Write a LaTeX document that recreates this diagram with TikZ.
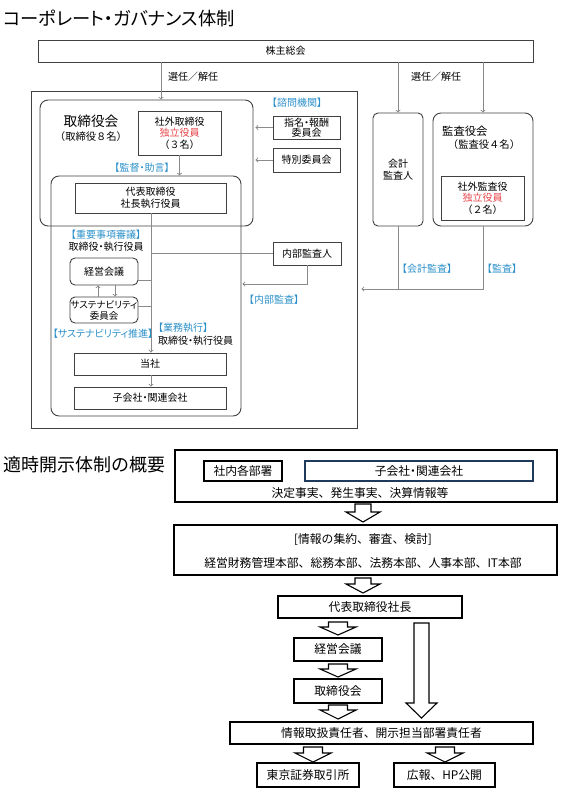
\documentclass[tikz,border=0pt]{standalone}
\usepackage{fontspec}
\setmainfont{Noto Sans CJK JP}
\newfontfamily\propfont{Noto Sans CJK JP}[RawFeature=+palt]
\newfontfamily\fullw{Noto Sans CJK JP}
\usetikzlibrary{positioning}
\definecolor{tagblue}{HTML}{2A8FC8}
\definecolor{indep}{HTML}{E8464A}
\definecolor{frame}{HTML}{404040}
\definecolor{wire}{HTML}{8A8A8A}
\definecolor{navy}{HTML}{1F3A5A}
\tikzstyle{unit} = [rectangle, 
draw=frame, 
line width=0.9pt, 
fill=white, 
inner sep=0pt, 
align=center, 
font=\propfont\fontsize{10}{11.5}\selectfont]
\tikzstyle{meeting} = [unit, fill=none, rounded corners=8]
\tikzstyle{plain} = [inner sep=0pt, align=center, font=\propfont\fontsize{10}{11.5}\selectfont]
\tikzstyle{tag} = [inner sep=0pt, text=tagblue, font=\propfont\fontsize{10}{11.5}\selectfont]
\tikzstyle{flowbox} = [rectangle, 
draw=black, 
line width=1.3pt, 
fill=white, 
inner sep=0pt, 
align=center, 
font=\fontsize{11.8}{14}\selectfont]
\tikzstyle{lowtext} = [inner sep=0pt, font=\fontsize{11.8}{14}\selectfont]
\tikzstyle{arrow} = [draw=wire, line width=0.9pt, ->, >=to]
\tikzstyle{wire} = [draw=wire, line width=0.9pt]
\tikzstyle{hollow} = [draw=black, line width=1.1pt, fill=white, line join=miter]
% x, top, tip, shaft half width, head half width, head length
\newcommand{\hollowdown}[6]{%
  \draw [hollow] (#1-#4,#2) -- (#1+#4,#2) -- (#1+#4,#3-#6) -- (#1+#5,#3-#6) -- (#1,#3)
    -- (#1-#5,#3-#6) -- (#1-#4,#3-#6) -- cycle;}
\begin{document}
\begin{tikzpicture}[x=1pt, y=-1pt, node distance=34pt]
  \useasboundingbox (0,0) rectangle (575,793);

  % corporate governance
  \node (title) [anchor=west, inner sep=0pt, font=\propfont\fontsize{18.3}{20}\selectfont] at (3,18) {コーポレート・ガバナンス体制};
  \node (gm) [unit, minimum width=495, minimum height=22] at (285.5,51) {株主総会};
  \node (group) [rectangle, draw=frame, line width=0.9pt, minimum width=326, minimum height=337] at (194,259.5) {};

  \node (board) [meeting, minimum width=213, minimum height=126] at (146.5,163) {};
  \node (boardname) [plain, font=\fontsize{13.7}{16}\selectfont] at (91,121) {取締役会};
  \node (boardnum) [plain, font=\fullw\fontsize{10.3}{12}\selectfont] at (91,137) {（取締役８名）};
  \node (outdir) [unit, minimum width=83, minimum height=44] at (179.5,133) {社外取締役\\\textcolor{indep}{独立役員}\\{\fullw （３名）}};

  \node (advtag) [tag] at (297,103) {【諮問機関】};
  \node (nomcom) [unit, minimum width=67, minimum height=23, font=\propfont\fontsize{10}{10.5}\selectfont] at (306.5,127.5) {指名・報酬\\委員会};
  \node (spcom) [unit, minimum width=67, minimum height=24] at (306.5,160) {特別委員会};

  \node (exec) [meeting, minimum width=190, minimum height=240] at (146,296) {};
  \node (supertag) [tag] at (142,168) {【監督・助言】};
  \node (ceo) [unit, minimum width=151, minimum height=30] at (150.5,198) {代表取締役\\社長執行役員};

  \node (deltag) [tag] at (106,235) {【重要事項審議】};
  \node (delwho) [plain] at (106,247) {取締役・執行役員};
  \node (intaud) [unit, minimum width=68, minimum height=23] at (307,253.5) {内部監査人};
  \node (inttag) [tag] at (274,300) {【内部監査】};
  \node (mtg) [meeting, fill=white, rounded corners=5, minimum width=68, minimum height=27] at (104,271.5) {経営会議};
  \node (sus) [meeting, fill=white, rounded corners=5, minimum width=68, minimum height=26, font=\propfont\fontsize{9.5}{11}\selectfont] at (104,310) {サステナビリティ\\委員会};
  \node (sustag) [tag] at (103,334) {【サステナビリティ推進】};
  \node (opstag) [tag, anchor=west] at (158,328) {【業務執行】};
  \node (opswho) [plain, anchor=west] at (158,341) {取締役・執行役員};
  \node (hq) [unit, minimum width=152, minimum height=22] at (150,364) {当社};
  \node (subs) [unit, minimum width=152, minimum height=22] at (150,398) {子会社・関連会社};

  \node (elect1) [plain, font=\fullw\fontsize{10}{11.5}\selectfont] at (193,77) {選任／解任};
  \node (elect2) [plain, font=\fullw\fontsize{10}{11.5}\selectfont] at (436,77) {選任／解任};
  \node (accaud) [meeting, rounded corners=5, minimum width=50, minimum height=113] at (398,169.5) {会計\\監査人};
  \node (audbd) [meeting, minimum width=100, minimum height=113] at (483,169.5) {};
  \node (audname) [plain, anchor=west, font=\fontsize{11.3}{13}\selectfont] at (442,131) {監査役会};
  \node (audnum) [plain, font=\fullw\fontsize{10.3}{12}\selectfont] at (484,145) {（監査役４名）};
  \node (outaud) [unit, minimum width=83, minimum height=44] at (482.5,198) {社外監査役\\\textcolor{indep}{独立役員}\\{\fullw （２名）}};
  \node (acctag) [tag] at (427,269) {【会計監査】};
  \node (audtag) [tag] at (502,269) {【監査】};

  \coordinate (vote) at (161,0);
  \coordinate (trunk) at (151,0);
  \coordinate (iaturn) at (307,284);
  \coordinate (audline) at (0,289);

  \draw [arrow] (gm.south -| vote) -- (board.north -| vote);
  \draw [arrow] (gm.south -| accaud) -- (accaud.north);
  \draw [arrow] (gm.south -| audbd) -- (audbd.north);
  \draw [arrow] (outdir.south) -- (outdir.south |- exec.north);
  \draw [arrow, shorten >=2] (nomcom.west) -- (nomcom.west -| board.east);
  \draw [arrow, shorten >=2] (spcom.west) -- (spcom.west -| board.east);
  \draw [arrow] (ceo.south -| trunk) -- (hq.north -| trunk);
  \draw [arrow] (hq.south -| trunk) -- (subs.north -| trunk);
  \draw [wire] (intaud.west) -- (intaud.west -| trunk);
  \draw [wire] ([yshift=-8.5]mtg.east) -- ([yshift=-8.5]mtg.east -| trunk);
  \draw [wire] ([yshift=4]sus.east) -- ([yshift=4]sus.east -| trunk);
  \draw [arrow] ([xshift=-6]sus.north) -- ([xshift=-6]mtg.south);
  \draw [arrow] ([xshift=11]mtg.south) -- ([xshift=11]sus.north);
  \draw [arrow, shorten >=1] (intaud.south) -- (iaturn) -- (iaturn -| exec.east);
  \draw [wire] (accaud.south) -- (accaud.south |- audline);
  \draw [arrow, shorten >=4] (audbd.south) -- (audbd.south |- audline) -- (audline -| group.east);

  % timely disclosure
  \node (title2) [anchor=west, inner sep=0pt, font=\fontsize{18}{20}\selectfont] at (3,465) {適時開示体制の概要};
  \node (src) [flowbox, minimum width=382, minimum height=52] at (366,476) {};
  \node (dept) [flowbox, line width=1.1pt, minimum width=78, minimum height=20] at (243,471) {社内各部署};
  \node (grp) [flowbox, draw=navy, line width=1.1pt, minimum width=228, minimum height=20, font=\propfont\fontsize{11.8}{14}\selectfont] at (419,471) {子会社・関連会社};
  \node (facts) [lowtext] at (360,493) {決定事実、発生事実、決算情報等};
  \node (review) [flowbox, minimum width=383, minimum height=50] at (365.5,550) {};
  \node (reviewhead) [lowtext] at (363,540) {[情報の集約、審査、検討]};
  \node (revieworgs) [lowtext] at (363,563) {経営財務管理本部、総務本部、法務本部、人事本部、IT本部};
  \node (pres) [flowbox, minimum width=184, minimum height=22] at (370,607) {代表取締役社長};
  \node (mtgb) [flowbox, minimum width=88, minimum height=23] at (338,649.5) {経営会議};
  \node (boardb) [flowbox, minimum width=88, minimum height=24] at (338,691) {取締役会};
  \node (disc) [flowbox, minimum width=303, minimum height=22] at (381.5,733) {情報取扱責任者、開示担当部署責任者};
  \node (tse) [flowbox, minimum width=102, minimum height=24] at (308,775) {東京証券取引所};
  \node (pr) [flowbox, minimum width=101, minimum height=24] at (444.5,775) {広報、HP公開};

  \hollowdown{363}{504}{522}{8}{17}{10}
  \hollowdown{363}{578}{593}{8}{17}{9}
  \hollowdown{338}{622}{635}{9.5}{18}{8}
  \hollowdown{338}{664}{677}{9.5}{18}{8}
  \hollowdown{338}{705}{719}{9.5}{18}{9}
  \hollowdown{421.5}{623}{718}{7.5}{15.5}{15}
  \hollowdown{313}{747}{762}{9.5}{18}{9}
  \hollowdown{445}{747}{762}{9.5}{18}{9}
\end{tikzpicture}
\end{document}
